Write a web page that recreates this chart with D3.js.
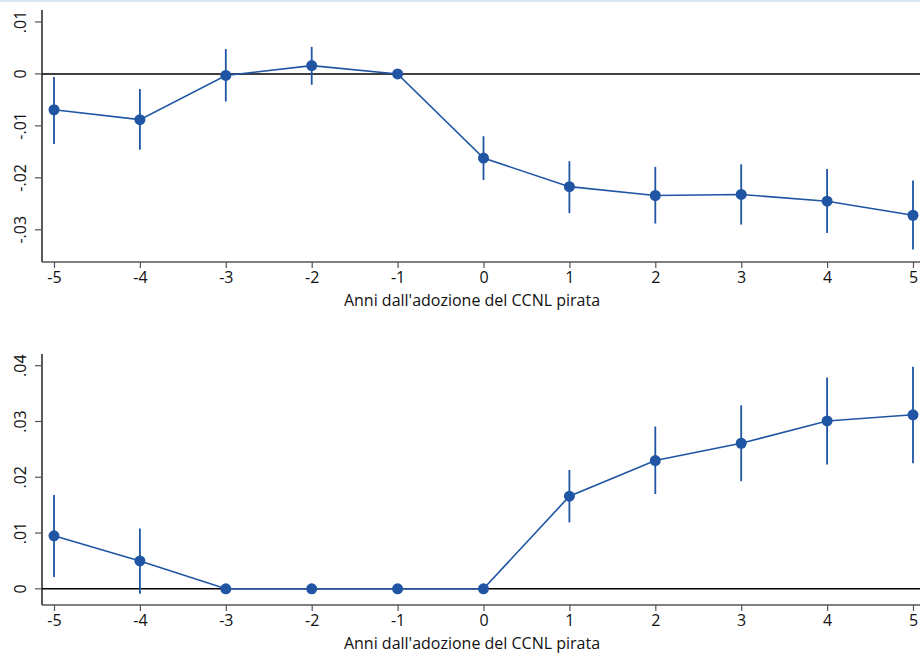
<!DOCTYPE html>
<html><head><meta charset="utf-8">
<script src="https://cdn.jsdelivr.net/npm/d3@7"></script>
<style>
body{margin:0;background:#fff;}
svg{display:block;}
text{font-family:"Open Sans","Noto Sans",sans-serif;fill:#111;}
</style></head>
<body>
<svg id="c" width="920" height="654"></svg>
<script>
const years = [-5,-4,-3,-2,-1,0,1,2,3,4,5];
const xTicks = [-5,-4,-3,-2,-1,0,1,2,3,4,5];
const xTitle = "Anni dall'adozione del CCNL pirata";

// Panel 1
const est1 = [-0.0069,-0.0088,-0.0003,0.0016,0,-0.0162,-0.0217,-0.0234,-0.0232,-0.0245,-0.0272];
const lo1  = [-0.0135,-0.0146,-0.0053,-0.0021,null,-0.0204,-0.0268,-0.0288,-0.0290,-0.0306,-0.0338];
const hi1  = [-0.0006,-0.0029,0.0048,0.0052,null,-0.0120,-0.0168,-0.0179,-0.0174,-0.0183,-0.0205];
const yTicks1 = [0.01,0,-0.01,-0.02,-0.03];
const yLabels1 = [".01","0","-.01","-.02","-.03"];

// Panel 2
const est2 = [0.0095,0.0050,0,0,0,0,0.0166,0.0230,0.0261,0.0301,0.0312];
const lo2  = [0.0021,-0.0009,null,null,null,null,0.0119,0.0170,0.0193,0.0223,0.0225];
const hi2  = [0.0168,0.0108,null,null,null,null,0.0213,0.0291,0.0329,0.0379,0.0398];
const yTicks2 = [0.04,0.03,0.02,0.01,0];
const yLabels2 = [".04",".03",".02",".01","0"];

const svg = d3.select("#c");
const blue = "#1f55a3";

svg.append("rect").attr("x",0).attr("y",0).attr("width",920).attr("height",2).attr("fill","#dde7f0");

function panel(cfg){
  const g = svg.append("g");
  const x = d3.scaleLinear().domain([-5,5]).range([54,913]);
  const y = d3.scaleLinear().domain(cfg.ydom).range(cfg.yrange);
  const [yTop, yBot] = [cfg.yrange[1], cfg.yrange[0]];

  // zero line
  g.append("line").attr("x1",42).attr("x2",920).attr("y1",y(0)).attr("y2",y(0))
    .attr("stroke","#000").attr("stroke-width",1.5);

  // y axis
  const ya = g.append("g").attr("transform","translate(42,0)")
    .call(d3.axisLeft(y).tickValues(cfg.yticks).tickFormat((d,i)=>cfg.ylabels[i]).tickSize(7).tickSizeOuter(0));
  ya.select(".domain").attr("stroke","#000").attr("stroke-width",1.3)
    .attr("d",`M0,${yTop}V${yBot}`);
  ya.selectAll(".tick line").attr("stroke","#555").attr("stroke-width",1.2);
  ya.selectAll(".tick text").attr("font-size",16).attr("fill","#111")
    .each(function(d){
      d3.select(this).attr("x",0).attr("dy",null).attr("text-anchor","middle")
        .attr("transform",`translate(-21,${y(d)}) rotate(-90)`).attr("y",5);
    });
  ya.selectAll(".tick").attr("transform",null);
  ya.selectAll(".tick line").each(function(d){ d3.select(this).attr("y1",y(d)).attr("y2",y(d)); });

  // x axis
  const xa = g.append("g").attr("transform",`translate(0,${yBot})`)
    .call(d3.axisBottom(x).tickValues(cfg.xticks).tickFormat(d3.format("d")).tickSize(6).tickSizeOuter(0));
  xa.select(".domain").attr("stroke","#555").attr("stroke-width",1.3).attr("d","M42,0H920");
  xa.selectAll(".tick line").attr("stroke","#555").attr("stroke-width",1.2);
  xa.selectAll(".tick text").attr("font-size",16).attr("fill","#111").attr("y",21).attr("dy",null)
    .text(d=>d<0? "-"+Math.abs(d) : String(d));

  g.append("text").attr("x",472).attr("y",yBot+44).attr("text-anchor","middle")
    .attr("font-size",16).text(xTitle);

  // error bars
  const data = years.map((yr,i)=>({yr, e:cfg.est[i], lo:cfg.lo[i], hi:cfg.hi[i]}));
  g.selectAll("line.ci").data(data.filter(d=>d.lo!==null)).join("line").attr("class","ci")
    .attr("x1",d=>x(d.yr)).attr("x2",d=>x(d.yr)).attr("y1",d=>y(d.lo)).attr("y2",d=>y(d.hi))
    .attr("stroke",blue).attr("stroke-width",1.8);
  g.append("path").datum(data)
    .attr("d",d3.line().x(d=>x(d.yr)).y(d=>y(d.e)))
    .attr("fill","none").attr("stroke",blue).attr("stroke-width",1.6);
  g.selectAll("circle").data(data).join("circle")
    .attr("cx",d=>x(d.yr)).attr("cy",d=>y(d.e)).attr("r",5.5).attr("fill",blue);
}

panel({ydom:[-0.0362,0.0123], yrange:[262,10], yticks:yTicks1, ylabels:yLabels1,
  est:est1, lo:lo1, hi:hi1, xticks:xTicks});
panel({ydom:[-0.0029,0.0421], yrange:[605,354], yticks:yTicks2, ylabels:yLabels2,
  est:est2, lo:lo2, hi:hi2, xticks:xTicks});
</script>
</body></html>
